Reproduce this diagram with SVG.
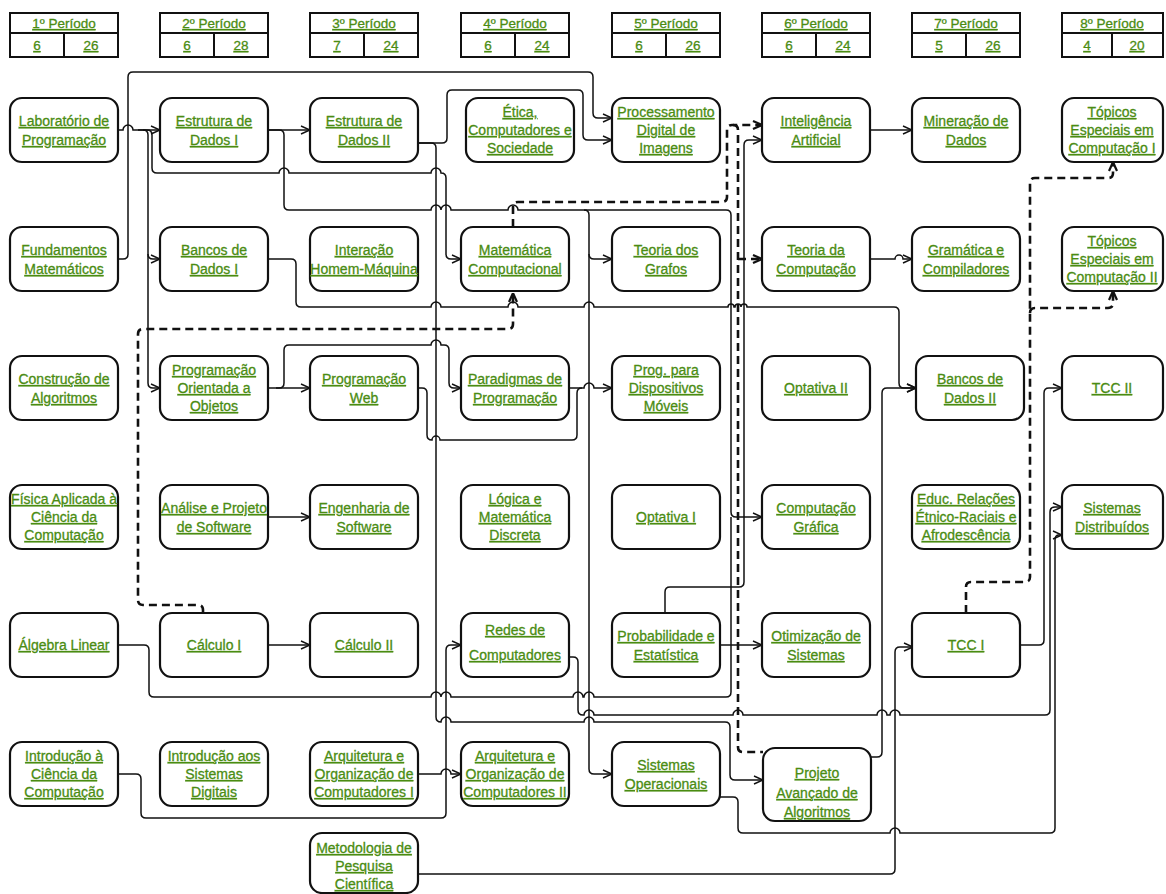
<svg xmlns="http://www.w3.org/2000/svg" width="1166" height="894" viewBox="0 0 1166 894">
<style>
.n rect{fill:#fff;stroke:#111;stroke-width:2.2}
.h rect{fill:#fff;stroke:#111;stroke-width:2}
.h line{stroke:#111;stroke-width:2}
.t{font-family:"Liberation Sans",Arial,sans-serif;font-size:14px;fill:#4a8c12;stroke:#4a8c12;stroke-width:0.3;text-anchor:middle;text-decoration:underline}
.ht{font-family:"Liberation Sans",Arial,sans-serif;font-size:13.5px;fill:#4a8c12;stroke:#4a8c12;stroke-width:0.3;text-anchor:middle;text-decoration:underline}
.c{fill:none;stroke:#111;stroke-width:1.5;marker-end:url(#a)}
.c0{fill:none;stroke:#111;stroke-width:1.5}
.d{fill:none;stroke:#111;stroke-width:2.6;stroke-dasharray:8 5;marker-end:url(#ad)}
.d0{fill:none;stroke:#111;stroke-width:2.6;stroke-dasharray:8 5}
</style>
<defs>
<marker id="a" viewBox="0 0 10 10" refX="10" refY="5" markerWidth="10" markerHeight="10" markerUnits="userSpaceOnUse" orient="auto"><path d="M1,1 L10,5 L1,9" fill="none" stroke="#111" stroke-width="1.5"/></marker>
<marker id="ad" viewBox="0 0 10 10" refX="10" refY="5" markerWidth="10" markerHeight="10" markerUnits="userSpaceOnUse" orient="auto"><path d="M1,1 L10,5 L1,9" fill="none" stroke="#111" stroke-width="2.2"/></marker>
</defs>
<rect width="1166" height="894" fill="#fff"/>

<g id="headers">
<g id="h1" class="h"><rect x="10" y="13" width="108" height="44"/><line x1="10" y1="33" x2="118" y2="33"/><line x1="64" y1="33" x2="64" y2="57"/><text class="ht" x="64" y="28">1º Período</text><text class="ht" x="37" y="50">6</text><text class="ht" x="91" y="50">26</text></g>
<g id="h2" class="h"><rect x="160" y="13" width="108" height="44"/><line x1="160" y1="33" x2="268" y2="33"/><line x1="214" y1="33" x2="214" y2="57"/><text class="ht" x="214" y="28">2º Período</text><text class="ht" x="187" y="50">6</text><text class="ht" x="241" y="50">28</text></g>
<g id="h3" class="h"><rect x="310" y="13" width="108" height="44"/><line x1="310" y1="33" x2="418" y2="33"/><line x1="364" y1="33" x2="364" y2="57"/><text class="ht" x="364" y="28">3º Período</text><text class="ht" x="337" y="50">7</text><text class="ht" x="391" y="50">24</text></g>
<g id="h4" class="h"><rect x="461" y="13" width="108" height="44"/><line x1="461" y1="33" x2="569" y2="33"/><line x1="515" y1="33" x2="515" y2="57"/><text class="ht" x="515" y="28">4º Período</text><text class="ht" x="488" y="50">6</text><text class="ht" x="542" y="50">24</text></g>
<g id="h5" class="h"><rect x="612" y="13" width="108" height="44"/><line x1="612" y1="33" x2="720" y2="33"/><line x1="666" y1="33" x2="666" y2="57"/><text class="ht" x="666" y="28">5º Período</text><text class="ht" x="639" y="50">6</text><text class="ht" x="693" y="50">26</text></g>
<g id="h6" class="h"><rect x="762" y="13" width="108" height="44"/><line x1="762" y1="33" x2="870" y2="33"/><line x1="816" y1="33" x2="816" y2="57"/><text class="ht" x="816" y="28">6º Período</text><text class="ht" x="789" y="50">6</text><text class="ht" x="843" y="50">24</text></g>
<g id="h7" class="h"><rect x="912" y="13" width="108" height="44"/><line x1="912" y1="33" x2="1020" y2="33"/><line x1="966" y1="33" x2="966" y2="57"/><text class="ht" x="966" y="28">7º Período</text><text class="ht" x="939" y="50">5</text><text class="ht" x="993" y="50">26</text></g>
<g id="h8" class="h"><rect x="1062" y="13" width="101" height="44"/><line x1="1062" y1="33" x2="1163" y2="33"/><line x1="1112" y1="33" x2="1112" y2="57"/><text class="ht" x="1112" y="28">8º Período</text><text class="ht" x="1087" y="50">4</text><text class="ht" x="1137" y="50">20</text></g>
</g>

<g id="connectors">
<path class="c" d="M118,130 H123 a5,5 0 0 1 10,0 H160"/>
<path class="c" d="M138,130 H143 Q148,130 148,135 V254 Q148,259 153,259 H160"/>
<path class="c" d="M148,254 V383 Q148,388 153,388 H160"/>
<path class="c" d="M143,130 H147 Q152,130 152,135 V168 Q152,173 157,173 H279 a5,5 0 0 1 10,0 H431 a5,5 0 0 1 10,0 Q446,173 446,178 V254 Q446,259 451,259 H461"/>
<path class="c" d="M118,259 H123 Q128,259 128,254 V77 Q128,72 133,72 H588 Q593,72 593,77 V113 Q593,118 598,118 H612"/>
<path class="c" d="M268,130 H310"/>
<path class="c" d="M268,130 H279 Q284,130 284,135 V205 Q284,210 289,210 H431 a5,5 0 0 1 10,0 a5,5 0 0 1 10,0 H508 a5,5 0 0 1 10,0 H726 Q731,210 731,215 V512 Q731,517 736,517 H762"/>
<path class="c" d="M584,210 Q589,210 589,215 V769 Q589,774 594,774 H612"/>
<path class="c" d="M589,254 Q589,259 594,259 H612"/>
<path class="c" d="M418,143 H442 Q447,143 447,138 V95 Q447,90 452,90 H578 Q583,90 583,95 V135 Q583,140 588,140 H612"/>
<path class="c" d="M418,143 H431 Q436,143 436,148 V717 Q436,722 441,722 a5,5 0 0 1 10,0 H584 a5,5 0 0 1 10,0 H725 Q730,722 730,727 V775 Q730,780 735,780 H763"/>
<path class="c" d="M268,259 H291 Q296,259 296,264 V302 Q296,307 301,307 H431 a5,5 0 0 1 10,0 H508 a5,5 0 0 1 10,0 H584 a5,5 0 0 1 10,0 H728 a3,3 0 0 1 6,0 H735 a3,3 0 0 1 6,0 H741 a3,3 0 0 1 6,0 H894 Q899,307 899,312 V383 Q899,388 904,388 H916"/>
<path class="c" d="M268,388 H310"/>
<path class="c" d="M276,388 H279 Q284,388 284,383 V350 Q284,345 289,345 H431 a5,5 0 0 1 10,0 H444 Q449,345 449,350 V383 Q449,388 454,388 H461"/>
<path class="c0" d="M418,388 H422 Q427,388 427,393 V435 Q427,440 432,440 a4,4 0 0 1 8,0 H572 Q577,440 577,435 V393 Q577,388 582,388"/>
<path class="c" d="M569,388 H584 a5,5 0 0 1 10,0 H612"/>
<path class="c" d="M268,517 H310"/>
<path class="c" d="M268,645 H310"/>
<path class="c0" d="M118,645 H144 Q149,645 149,650 V692 Q149,697 154,697 H431 a5,5 0 0 1 10,0 a5,5 0 0 1 10,0 H573 a5,5 0 0 1 10,0 H584 a5,5 0 0 1 10,0 H726 Q731,697 731,692 V517"/>
<path class="c" d="M118,774 H136 Q141,774 141,779 V813 Q141,818 146,818 H441 Q446,818 446,813 V650 Q446,645 451,645 H461"/>
<path class="c" d="M418,774 H441 a5,5 0 0 1 10,0 H461"/>
<path class="c" d="M569,657 H573 Q578,657 578,662 V710 Q578,715 583,715 H584 a5,5 0 0 1 10,0 H733 a5,5 0 0 1 10,0 H877 a5,5 0 0 1 10,0 H890 a5,5 0 0 1 10,0 H1045 Q1050,715 1050,710 V512 Q1050,507 1055,507 H1062"/>
<path class="c" d="M720,797 H733 Q738,797 738,802 V828 Q738,833 743,833 H890 a5,5 0 0 1 10,0 H1050 Q1055,833 1055,828 V540 Q1055,535 1059,535 H1062"/>
<path class="c" d="M1020,645 H1039 Q1044,645 1044,640 V393 Q1044,388 1049,388 H1062"/>
<path class="c" d="M418,874 H890 Q895,874 895,869 V652 Q895,647 900,647 H913"/>
<path class="c" d="M871,757 H877 Q882,757 882,752 V393 Q882,388 887,388 H916"/>
<path class="c" d="M665,613 V592 Q665,587 670,587 H739 Q744,587 744,582 V145 Q744,140 749,140 H762"/>
<path class="c" d="M720,645 H762"/>
<path class="c" d="M870,130 H912"/>
<path class="c" d="M870,259 H895 a4,4 0 0 1 8,0 H912"/>
<path class="d" d="M203,613 V610 Q203,605 198,605 H143 Q138,605 138,600 V334 Q138,329 143,329 H508 Q513,329 513,324 V293"/>
<path class="d" d="M513,227 V207 Q513,202 518,202 H722 Q727,202 727,197 V130 Q727,125 732,125 H762"/>
<path class="d0" d="M733,125 Q738,125 738,130 V747 Q738,752 743,752 H763"/>
<path class="d" d="M738,259 H762"/>
<path class="d" d="M966,613 V587 Q966,582 971,582 H1025 Q1030,582 1030,577 V183 Q1030,178 1035,178 H1108 Q1113,178 1113,173 V162"/>
<path class="d" d="M1030,313 Q1030,308 1035,308 H1108 Q1113,308 1113,303 V291"/>
</g>

<g id="lab" class="n"><rect x="10" y="98" width="108" height="64" rx="12"/><text class="t"><tspan x="64" y="126">Laboratório de</tspan><tspan x="64" y="145">Programação</tspan></text></g>
<g id="estI" class="n"><rect x="160" y="98" width="108" height="64" rx="12"/><text class="t"><tspan x="214" y="126">Estrutura de</tspan><tspan x="214" y="145">Dados I</tspan></text></g>
<g id="estII" class="n"><rect x="310" y="98" width="108" height="64" rx="12"/><text class="t"><tspan x="364" y="126">Estrutura de</tspan><tspan x="364" y="145">Dados II</tspan></text></g>
<g id="etica" class="n"><rect x="466" y="98" width="108" height="64" rx="12"/><text class="t"><tspan x="520" y="117">Ética,</tspan><tspan x="520" y="135">Computadores e</tspan><tspan x="520" y="153">Sociedade</tspan></text></g>
<g id="proc" class="n"><rect x="612" y="98" width="108" height="64" rx="12"/><text class="t"><tspan x="666" y="117">Processamento</tspan><tspan x="666" y="135">Digital de</tspan><tspan x="666" y="153">Imagens</tspan></text></g>
<g id="ia" class="n"><rect x="762" y="98" width="108" height="64" rx="12"/><text class="t"><tspan x="816" y="126">Inteligência</tspan><tspan x="816" y="145">Artificial</tspan></text></g>
<g id="min" class="n"><rect x="912" y="98" width="108" height="64" rx="12"/><text class="t"><tspan x="966" y="126">Mineração de</tspan><tspan x="966" y="145">Dados</tspan></text></g>
<g id="top1" class="n"><rect x="1062" y="98" width="101" height="64" rx="12"/><text class="t"><tspan x="1112" y="117">Tópicos</tspan><tspan x="1112" y="135">Especiais em</tspan><tspan x="1112" y="153">Computação I</tspan></text></g>

<g id="fund" class="n"><rect x="10" y="227" width="108" height="64" rx="12"/><text class="t"><tspan x="64" y="255">Fundamentos</tspan><tspan x="64" y="274">Matemáticos</tspan></text></g>
<g id="bdI" class="n"><rect x="160" y="227" width="108" height="64" rx="12"/><text class="t"><tspan x="214" y="255">Bancos de</tspan><tspan x="214" y="274">Dados I</tspan></text></g>
<g id="ihm" class="n"><rect x="310" y="227" width="108" height="64" rx="12"/><text class="t"><tspan x="364" y="255">Interação</tspan><tspan x="364" y="274">Homem-Máquina</tspan></text></g>
<g id="matc" class="n"><rect x="461" y="227" width="108" height="64" rx="12"/><text class="t"><tspan x="515" y="255">Matemática</tspan><tspan x="515" y="274">Computacional</tspan></text></g>
<g id="grafos" class="n"><rect x="612" y="227" width="108" height="64" rx="12"/><text class="t"><tspan x="666" y="255">Teoria dos</tspan><tspan x="666" y="274">Grafos</tspan></text></g>
<g id="tcomp" class="n"><rect x="762" y="227" width="108" height="64" rx="12"/><text class="t"><tspan x="816" y="255">Teoria da</tspan><tspan x="816" y="274">Computação</tspan></text></g>
<g id="gram" class="n"><rect x="912" y="227" width="108" height="64" rx="12"/><text class="t"><tspan x="966" y="255">Gramática e</tspan><tspan x="966" y="274">Compiladores</tspan></text></g>
<g id="top2" class="n"><rect x="1062" y="227" width="101" height="64" rx="12"/><text class="t"><tspan x="1112" y="246">Tópicos</tspan><tspan x="1112" y="264">Especiais em</tspan><tspan x="1112" y="282">Computação II</tspan></text></g>

<g id="constr" class="n"><rect x="10" y="356" width="108" height="64" rx="12"/><text class="t"><tspan x="64" y="384">Construção de</tspan><tspan x="64" y="403">Algoritmos</tspan></text></g>
<g id="poo" class="n"><rect x="160" y="356" width="108" height="64" rx="12"/><text class="t"><tspan x="214" y="375">Programação</tspan><tspan x="214" y="393">Orientada a</tspan><tspan x="214" y="411">Objetos</tspan></text></g>
<g id="web" class="n"><rect x="310" y="356" width="108" height="64" rx="12"/><text class="t"><tspan x="364" y="384">Programação</tspan><tspan x="364" y="403">Web</tspan></text></g>
<g id="parad" class="n"><rect x="461" y="356" width="108" height="64" rx="12"/><text class="t"><tspan x="515" y="384">Paradigmas de</tspan><tspan x="515" y="403">Programação</tspan></text></g>
<g id="pdm" class="n"><rect x="612" y="356" width="108" height="64" rx="12"/><text class="t"><tspan x="666" y="375">Prog. para</tspan><tspan x="666" y="393">Dispositivos</tspan><tspan x="666" y="411">Móveis</tspan></text></g>
<g id="opt2" class="n"><rect x="762" y="356" width="108" height="64" rx="12"/><text class="t" x="816" y="393">Optativa II</text></g>
<g id="bdII" class="n"><rect x="916" y="356" width="108" height="64" rx="12"/><text class="t"><tspan x="970" y="384">Bancos de</tspan><tspan x="970" y="403">Dados II</tspan></text></g>
<g id="tcc2" class="n"><rect x="1062" y="356" width="101" height="64" rx="12"/><text class="t" x="1112" y="393">TCC II</text></g>

<g id="fis" class="n"><rect x="10" y="485" width="108" height="64" rx="12"/><text class="t"><tspan x="64" y="504">Física Aplicada à</tspan><tspan x="64" y="522">Ciência da</tspan><tspan x="64" y="540">Computação</tspan></text></g>
<g id="aps" class="n"><rect x="160" y="485" width="108" height="64" rx="12"/><text class="t"><tspan x="214" y="513">Análise e Projeto</tspan><tspan x="214" y="532">de Software</tspan></text></g>
<g id="es" class="n"><rect x="310" y="485" width="108" height="64" rx="12"/><text class="t"><tspan x="364" y="513">Engenharia de</tspan><tspan x="364" y="532">Software</tspan></text></g>
<g id="lmd" class="n"><rect x="461" y="485" width="108" height="64" rx="12"/><text class="t"><tspan x="515" y="504">Lógica e</tspan><tspan x="515" y="522">Matemática</tspan><tspan x="515" y="540">Discreta</tspan></text></g>
<g id="opt1" class="n"><rect x="612" y="485" width="108" height="64" rx="12"/><text class="t" x="666" y="522">Optativa I</text></g>
<g id="cg" class="n"><rect x="762" y="485" width="108" height="64" rx="12"/><text class="t"><tspan x="816" y="513">Computação</tspan><tspan x="816" y="532">Gráfica</tspan></text></g>
<g id="educ" class="n"><rect x="912" y="485" width="108" height="64" rx="12"/><text class="t"><tspan x="966" y="504">Educ. Relações</tspan><tspan x="966" y="522">Étnico-Raciais e</tspan><tspan x="966" y="540">Afrodescência</tspan></text></g>
<g id="sd" class="n"><rect x="1062" y="485" width="101" height="64" rx="12"/><text class="t"><tspan x="1112" y="513">Sistemas</tspan><tspan x="1112" y="532">Distribuídos</tspan></text></g>

<g id="alg" class="n"><rect x="10" y="613" width="108" height="64" rx="12"/><text class="t" x="64" y="650">Álgebra Linear</text></g>
<g id="calc1" class="n"><rect x="160" y="613" width="108" height="64" rx="12"/><text class="t" x="214" y="650">Cálculo I</text></g>
<g id="calc2" class="n"><rect x="310" y="613" width="108" height="64" rx="12"/><text class="t" x="364" y="650">Cálculo II</text></g>
<g id="redes" class="n"><rect x="461" y="613" width="108" height="64" rx="12"/><text class="t"><tspan x="515" y="635">Redes de</tspan><tspan x="515" y="660">Computadores</tspan></text></g>
<g id="prob" class="n"><rect x="612" y="613" width="108" height="64" rx="12"/><text class="t"><tspan x="666" y="641">Probabilidade e</tspan><tspan x="666" y="660">Estatística</tspan></text></g>
<g id="otim" class="n"><rect x="762" y="613" width="108" height="64" rx="12"/><text class="t"><tspan x="816" y="641">Otimização de</tspan><tspan x="816" y="660">Sistemas</tspan></text></g>
<g id="tcc1" class="n"><rect x="912" y="613" width="108" height="64" rx="12"/><text class="t" x="966" y="650">TCC I</text></g>

<g id="icc" class="n"><rect x="10" y="742" width="108" height="64" rx="12"/><text class="t"><tspan x="64" y="761">Introdução à</tspan><tspan x="64" y="779">Ciência da</tspan><tspan x="64" y="797">Computação</tspan></text></g>
<g id="isd" class="n"><rect x="160" y="742" width="108" height="64" rx="12"/><text class="t"><tspan x="214" y="761">Introdução aos</tspan><tspan x="214" y="779">Sistemas</tspan><tspan x="214" y="797">Digitais</tspan></text></g>
<g id="aoc1" class="n"><rect x="310" y="742" width="108" height="64" rx="12"/><text class="t"><tspan x="364" y="761">Arquitetura e</tspan><tspan x="364" y="779">Organização de</tspan><tspan x="364" y="797">Computadores I</tspan></text></g>
<g id="aoc2" class="n"><rect x="461" y="742" width="108" height="64" rx="12"/><text class="t"><tspan x="515" y="761">Arquitetura e</tspan><tspan x="515" y="779">Organização de</tspan><tspan x="515" y="797">Computadores II</tspan></text></g>
<g id="so" class="n"><rect x="612" y="742" width="108" height="64" rx="12"/><text class="t"><tspan x="666" y="770">Sistemas</tspan><tspan x="666" y="789">Operacionais</tspan></text></g>
<g id="paa" class="n"><rect x="763" y="748" width="108" height="73" rx="12"/><text class="t"><tspan x="817" y="778">Projeto</tspan><tspan x="817" y="798">Avançado de</tspan><tspan x="817" y="817">Algoritmos</tspan></text></g>
<g id="met" class="n"><rect x="310" y="833" width="108" height="60" rx="12"/><text class="t"><tspan x="364" y="853">Metodologia de</tspan><tspan x="364" y="871">Pesquisa</tspan><tspan x="364" y="889">Científica</tspan></text></g>
</svg>
